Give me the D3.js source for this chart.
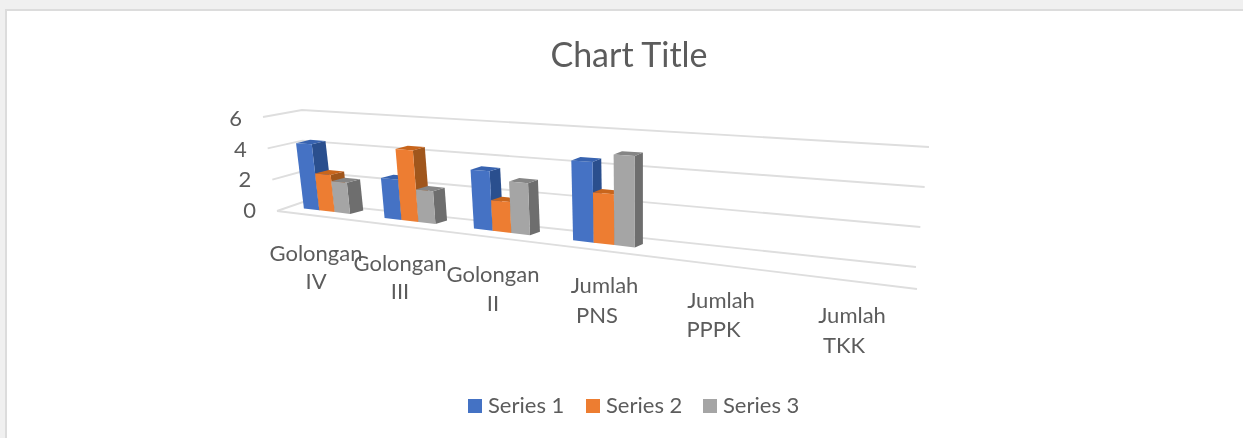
<!DOCTYPE html>
<html><head><meta charset="utf-8">
<script src="https://cdn.jsdelivr.net/npm/d3@7/dist/d3.min.js"></script>
<style>html,body{margin:0;padding:0;background:#f0f0f0;overflow:hidden}svg{display:block}text{font-family:Lato,"Open Sans",sans-serif;fill:#5c5c5c}</style>
</head><body><div id="c"></div>
<script>
const categories = ["Golongan IV","Golongan III","Golongan II","Jumlah PNS","Jumlah PPPK","Jumlah TKK"];
const labelLines = [["Golongan","IV"],["Golongan","III"],["Golongan","II"],["Jumlah","PNS"],["Jumlah","PPPK"],["Jumlah","TKK"]];
const seriesNames = ["Series 1","Series 2","Series 3"];
const series1 = [4.3,2.5,3.5,4.5,null,null];
const series2 = [2.4,4.4,1.8,2.8,null,null];
const series3 = [2,2,3,5,null,null];
const ticks = [0,2,4,6];
const front = ["#4472c4","#ed7d31","#a5a5a5"];
const side = ["#2b4f8e","#a0561e","#6e6e6e"];
const topc = ["#3763b0","#c8651f","#858585"];

const W=1243,H=438;
const svg=d3.select("#c").append("svg").attr("width",W).attr("height",H);
const defs=svg.append("defs");
defs.append("filter").attr("id","soft").attr("x","-5%").attr("y","-5%").attr("width","110%").attr("height","110%")
  .append("feGaussianBlur").attr("stdDeviation",0.55);
defs.append("filter").attr("id","softText").attr("x","-5%").attr("y","-20%").attr("width","110%").attr("height","140%")
  .append("feGaussianBlur").attr("stdDeviation",0.35);
svg.append("rect").attr("x",6).attr("y",10).attr("width",W).attr("height",H).attr("fill","#fff").attr("stroke","#dcdcdc").attr("stroke-width",2);

const tg=svg.append("g").attr("filter","url(#softText)");
tg.append("text").attr("x",629).attr("y",67).attr("text-anchor","middle").attr("font-size",34).text("Chart Title");

// axis walls, expressed as scales from value to screen position
const v=d3.scaleLinear().domain([0,6]);
const leftFrontX=v.copy().range([277,263]), leftFrontY=v.copy().range([211,117]);
const backLeftX=v.copy().range([303,302]), backLeftY=v.copy().range([202,110]);
const backRightX=v.copy().range([916,929]), backRightY=v.copy().range([267,147]);
const g=svg.append("g").attr("fill","none").attr("stroke","#dedede").attr("stroke-width",1.9).attr("filter","url(#soft)");
g.selectAll("path.w").data(ticks).join("path").attr("class","w")
 .attr("d",t=>d3.line()([[leftFrontX(t),leftFrontY(t)],[backLeftX(t),backLeftY(t)],[backRightX(t),backRightY(t)]]));
g.append("path").attr("d",d3.line()([[leftFrontX(0),leftFrontY(0)],[917,289]]));
tg.selectAll("text.t").data(ticks).join("text").attr("class","t").attr("text-anchor","end")
 .attr("x",d3.scaleLinear().domain([0,6]).range([256,242])).attr("y",d3.scaleLinear().domain([0,6]).range([218,126]))
 .attr("font-size",22).text(d=>d);

// bars
const catX=d3.scaleLinear().domain([0,1,2,3,4,5]).range([327,410,502,604,719,849]);
const bw=d3.scaleLinear().domain([327,604]).range([15.4,20.6]);
const baseY=d3.scaleLinear().domain([304,635]).range([208.5,247.5]);
const unit=d3.scaleLinear().domain([304,635]).range([15.2,18.3]);
const tilt=d3.scaleLinear().domain([304,635]).range([-0.12,0]);
const depX=d3.scaleLinear().domain([304,635]).range([14,8]);
const P=(x,val,d)=>{const u=unit(x),px=x+tilt(x)*val*u,py=baseY(x)-val*u;
  return d?[px+depX(x),py-3.4]:[px,py];};
const poly=a=>d3.line()(a)+"Z";
const gb=svg.append("g").attr("filter","url(#soft)");
[series1,series2,series3].forEach((vals,s)=>{
  vals.forEach((val,i)=>{
    if(val==null)return;
    const c=catX(i),w=bw(c),x0=c+(s-1.5)*w,x1=x0+w;
    const g1=gb.append("g");
    g1.append("path").attr("fill",side[s]).attr("d",poly([P(x1,0,0),P(x1,0,1),P(x1,val,1),P(x1,val,0)]));
    g1.append("path").attr("fill",topc[s]).attr("d",poly([P(x0,val,0),P(x0,val,1),P(x1,val,1),P(x1,val,0)]));
    g1.append("path").attr("fill",front[s]).attr("d",poly([P(x0,0,0),P(x1,0,0),P(x1,val,0),P(x0,val,0)]));
  });
});

// category labels
const labelX=[316,400,493,604.5,721,852], line2X=[316,400,493,597,713.5,844];
const labelY=[260.5,270.5,281.5,293,308,323], line2Y=[288.5,298.5,310.5,323,337,353];
labelLines.forEach((l,i)=>{
  tg.append("text").attr("x",labelX[i]).attr("y",labelY[i]).attr("text-anchor","middle").attr("font-size",22).text(l[0]);
  tg.append("text").attr("x",line2X[i]).attr("y",line2Y[i]).attr("text-anchor","middle").attr("font-size",22).text(l[1]);
});

// legend
const lx=[468,586,703];
seriesNames.forEach((n,i)=>{
  svg.append("rect").attr("x",lx[i]).attr("y",399).attr("width",14).attr("height",14).attr("fill",front[i]);
  tg.append("text").attr("x",lx[i]+20).attr("y",413).attr("font-size",22).text(n);
});
</script></body></html>
